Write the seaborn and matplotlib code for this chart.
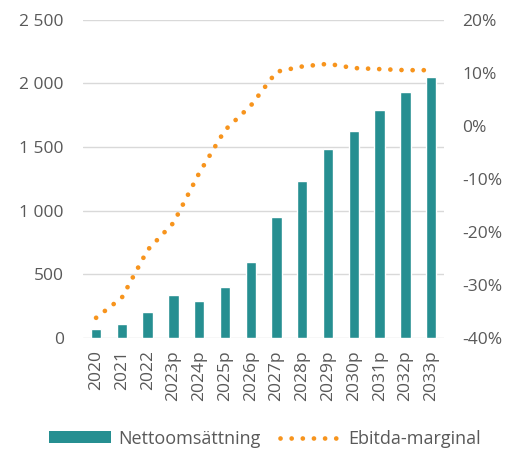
import matplotlib
matplotlib.use('Agg')
import matplotlib.pyplot as plt
import matplotlib.ticker as mticker
from matplotlib.patches import Patch
from matplotlib.lines import Line2D
import pandas as pd
import seaborn as sns

# Data
years = ['2020', '2021', '2022', '2023p', '2024p', '2025p', '2026p',
         '2027p', '2028p', '2029p', '2030p', '2031p', '2032p', '2033p']
net_sales = [71, 108, 202, 336, 291, 397, 596, 948, 1234, 1481, 1628, 1791, 1935, 2051]
ebitda_margin = [-36.2, -32.4, -23.4, -18.3, -8.9, -0.8, 3.8, 10.2, 11.2, 11.7, 10.9, 10.7, 10.5, 10.5]

bar_color = '#268f91'
line_color = '#f7941d'
text_color = '#595959'
dotted = (0, (0.01, 2.35))

df = pd.DataFrame({'year': years, 'sales': net_sales, 'margin': ebitda_margin})

sns.set_style('white')
plt.rcParams['font.family'] = ['Open Sans', 'DejaVu Sans']
plt.rcParams['font.size'] = 12.5
plt.rcParams['text.color'] = text_color
plt.rcParams['xtick.color'] = text_color
plt.rcParams['ytick.color'] = text_color

fig = plt.figure(figsize=(5.2, 4.5), dpi=100)
ax = fig.add_axes([0.16, 0.249, 0.694, 0.707])

sns.barplot(data=df, x='year', y='sales', color=bar_color, width=0.4,
            saturation=1, ax=ax, zorder=3)
ax.set_ylim(0, 2500)
ax.set_xlim(-0.5, len(years) - 0.5)
ax.yaxis.set_major_locator(mticker.MultipleLocator(500))
ax.yaxis.set_major_formatter(mticker.FuncFormatter(lambda v, p: f'{v:,.0f}'.replace(',', ' ')))
ax.grid(axis='y', color='#d9d9d9', linewidth=1.0, zorder=0)
ax.set_axisbelow(True)
ax.set_xlabel('')
ax.set_ylabel('')
ax.tick_params(axis='x', rotation=90, length=0, pad=9, labelsize=12.5)
ax.tick_params(axis='y', length=0, pad=14, labelsize=12.5)
for s in ax.spines.values():
    s.set_visible(False)

ax2 = ax.twinx()
sns.pointplot(data=df, x='year', y='margin', color=line_color, markers='',
              ax=ax2)
for ln in ax2.lines:
    ln.set_linestyle(dotted)
    ln.set_linewidth(3.4)
    ln.set_dash_capstyle('round')
ax2.set_ylim(-40, 20)
ax2.yaxis.set_major_locator(mticker.MultipleLocator(10))
ax2.yaxis.set_major_formatter(mticker.FuncFormatter(lambda v, p: f'{v:.0f}%'))
ax2.set_ylabel('')
ax2.tick_params(axis='y', length=0, pad=13, labelsize=12.5)
ax2.grid(False)
for s in ax2.spines.values():
    s.set_visible(False)

handles = [Patch(facecolor=bar_color, edgecolor='none'),
           Line2D([0], [0], color=line_color, linewidth=3.4,
                  linestyle=dotted, dash_capstyle='round')]
fig.legend(handles, ['Nettoomsättning', 'Ebitda-marginal'], loc='center',
           bbox_to_anchor=(0.51, 0.025), ncol=2, frameon=False,
           handlelength=3.4, handleheight=0.65, handletextpad=0.4,
           columnspacing=1.1, fontsize=13)

fig.savefig('out.png', dpi=100)
